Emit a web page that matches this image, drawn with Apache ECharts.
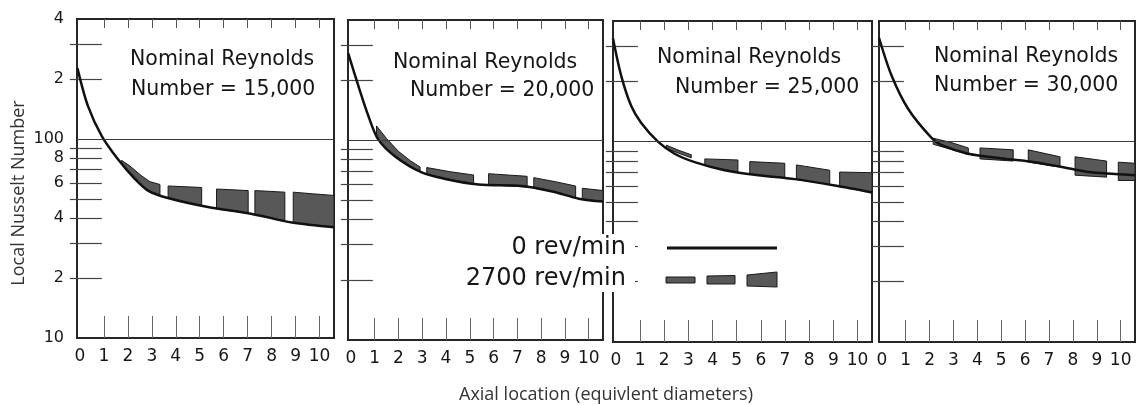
<!DOCTYPE html>
<html><head><meta charset="utf-8">
<script src="https://cdn.jsdelivr.net/npm/echarts@6/dist/echarts.min.js"></script>
<style>html,body{margin:0;padding:0;background:#fff}#c{width:1139px;height:405px}</style>
</head><body><div id="c"></div>
<script>
// ---- data ----
const panelTitles = [
  ['Nominal Reynolds', 'Number = 15,000'],
  ['Nominal Reynolds', 'Number = 20,000'],
  ['Nominal Reynolds', 'Number = 25,000'],
  ['Nominal Reynolds', 'Number = 30,000']
];
const seriesNames = ['0 rev/min', '2700 rev/min'];
const xTickLabels = [0, 1, 2, 3, 4, 5, 6, 7, 8, 9, 10];
const xTickMarks = [1, 2, 3, 4, 5, 6, 7, 8, 9, 10];
const yLabelValues = [10, 20, 40, 60, 80, 100, 200, 400];
const yLabelTexts = ['10', '2', '4', '6', '8', '100', '2', '4'];
const yMinorTicks = [20, 30, 40, 50, 60, 70, 80, 90, 200, 300];
const xAxisTitle = 'Axial location (equivlent diameters)';
const yAxisTitle = 'Local Nusselt Number';

// 0 rev/min: [x, Nu]
const rpm0_re15000 = [[-0.1,226],[0.33,147],[0.92,103],[1.59,79],[2.29,63],[2.84,55],[3.67,50.5],[5.34,45.5],[7.18,42],[8.85,38],[10.6,36]];
const rpm0_re20000 = [[-0.11,272],[0.31,188],[0.73,133],[1.15,101],[1.86,83],[2.98,69],[3.97,64],[5.37,60],[7.2,59],[8.47,55.4],[9.59,51],[10.6,49.3]];
const rpm0_re25000 = [[-0.12,327],[0.22,213],[0.64,150],[1.05,124],[1.74,100],[2.43,87],[3.26,79],[4.5,72],[5.88,68],[7.4,65],[9.06,60.4],[10.6,55.8]];
const rpm0_re30000 = [[-0.12,330],[0.41,213],[1.11,145],[2.09,104],[2.5,96],[3.62,87],[5.02,82.4],[6.41,79],[7.53,74.8],[8.64,70.5],[9.76,69],[10.6,67.9]];

// 2700 rev/min: dashes of the shaded band, each point [x, lower Nu, upper Nu]
const rpm2700_re15000 = [
  [[1.74,75,78],[2.09,68,73],[2.59,58.5,65],[2.92,54.5,61],[3.34,52,59]],
  [[3.68,50.5,58],[5.08,46,57]],
  [[5.7,44.5,56],[7.02,42.3,55]],
  [[7.3,41.8,55],[8.55,38.8,54]],
  [[8.9,38,54],[9.7,37,53],[10.6,35.8,52]]
];
const rpm2700_re20000 = [
  [[1.08,103,118],[1.5,91,102],[2.0,81,88],[2.5,74,79],[2.91,69.5,73.5]],
  [[3.19,67.5,73],[4.2,63.5,69.5],[5.16,60.5,67]],
  [[5.79,59.8,68],[7.41,58.3,66]],
  [[7.69,57.5,65],[8.6,55,62],[9.45,51.5,59]],
  [[9.73,50.8,57.5],[10.6,49.3,56]]
];
const rpm2700_re25000 = [
  [[2.09,92.5,96],[2.6,87.5,90.5],[3.12,83,86]],
  [[3.68,76,82],[5.05,70.5,81]],
  [[5.54,69,79.5],[6.99,65.8,78]],
  [[7.47,64.8,76.5],[8.85,61,72]],
  [[9.26,60,70.5],[10.6,55.8,70]]
];
const rpm2700_re30000 = [
  [[2.15,97,104],[2.9,91.5,99],[3.62,86,93]],
  [[4.11,82,93],[5.5,80,91]],
  [[6.13,79,91],[7.46,74.5,84]],
  [[8.09,68,84],[9.41,66.5,80]],
  [[9.9,64,79],[10.6,64,78]]
];

const solidSets = [rpm0_re15000, rpm0_re20000, rpm0_re25000, rpm0_re30000];
const bandSets = [rpm2700_re15000, rpm2700_re20000, rpm2700_re25000, rpm2700_re30000];

// ---- layout ----
const grids = [
  {left: 77, top: 19, width: 257, height: 319},
  {left: 348, top: 20, width: 255, height: 320},
  {left: 613, top: 21, width: 259, height: 321},
  {left: 879, top: 21, width: 256, height: 321}
];
const titlePos = [
  [[130, 60], [131, 89.5]],
  [[393, 63], [410, 91]],
  [[657, 58], [675, 87.5]],
  [[934, 57], [934, 86]]
];

const ink = '#161616';
const xAxes = [], yAxes = [], series = [];
grids.forEach((g, i) => {
  Object.assign(g, {show: true, borderColor: '#262626', borderWidth: 2, backgroundColor: 'transparent'});
  xAxes.push({
    gridIndex: i, type: 'value', position: 'bottom', min: -0.12, max: 10.6,
    axisLine: {show: false}, splitLine: {show: false},
    axisTick: {show: true, inside: true, length: 22, customValues: xTickMarks, lineStyle: {color: '#666', width: 1}},
    axisLabel: {show: true, customValues: xTickLabels, margin: 10, fontSize: 17, color: ink, fontFamily: 'DejaVu Sans'}
  });
  xAxes.push({
    gridIndex: i, type: 'value', position: 'top', min: -0.12, max: 10.6,
    axisLine: {show: false}, splitLine: {show: false},
    axisTick: {show: true, inside: true, length: 9, customValues: xTickMarks, lineStyle: {color: '#555', width: 1}},
    axisLabel: {show: false}
  });
  yAxes.push({
    gridIndex: i, type: 'log', logBase: 10, min: 10, max: 400, position: 'left',
    axisLine: {show: false}, splitLine: {show: false},
    axisTick: {show: true, inside: true, length: 22, customValues: yMinorTicks, lineStyle: {color: '#444', width: 1.2}},
    axisLabel: {
      show: i === 0, customValues: yLabelValues, margin: 13, fontSize: 16, color: ink, fontFamily: 'DejaVu Sans',
      formatter: v => {
        let best = 0;
        yLabelValues.forEach((t, k) => { if (Math.abs(t - v) < Math.abs(yLabelValues[best] - v)) best = k; });
        return yLabelTexts[best];
      }
    }
  });
  yAxes.push({
    gridIndex: i, type: 'log', logBase: 10, min: 10, max: 400, position: 'right',
    axisLine: {show: false}, splitLine: {show: false},
    axisTick: {show: true, inside: true, length: 10, customValues: yMinorTicks, lineStyle: {color: '#444', width: 1.2}},
    axisLabel: {show: false}
  });
  const dashes = bandSets[i];
  series.push({
    name: seriesNames[1], type: 'custom', xAxisIndex: 2 * i, yAxisIndex: 2 * i, z: 2,
    data: dashes.map(d => [d[0][0], d[0][1]]),
    renderItem: (params, api) => {
      const d = dashes[params.dataIndex];
      const upper = d.map(p => api.coord([p[0], p[2]]));
      const lower = d.map(p => api.coord([p[0], p[1]])).reverse();
      return {type: 'polygon', shape: {points: upper.concat(lower)},
        style: {fill: '#585858', stroke: '#1a1a1a', lineWidth: 1}};
    }
  });
  series.push({
    name: seriesNames[0], type: 'line', xAxisIndex: 2 * i, yAxisIndex: 2 * i, z: 3,
    data: solidSets[i], smooth: 0.3, symbol: 'none',
    lineStyle: {color: '#111', width: 2.5},
    markLine: {silent: true, symbol: 'none', label: {show: false},
      lineStyle: {color: '#3a3a3a', width: 1, type: 'solid'}, data: [{yAxis: 100}]}
  });
});

const graphics = [];
titlePos.forEach((pos, i) => {
  pos.forEach((p, k) => {
    graphics.push({type: 'text', x: p[0], y: p[1], z: 50,
      style: {text: panelTitles[i][k], font: '20.5px "DejaVu Sans"', fill: ink, textAlign: 'left', textVerticalAlign: 'middle'}});
  });
});
// legend
graphics.push({type: 'rect', z: 90, shape: {x: 455, y: 234, width: 180, height: 58}, style: {fill: '#fff'}});
graphics.push({type: 'text', x: 626, y: 248, z: 100,
  style: {text: seriesNames[0], font: '24px "DejaVu Sans"', fill: ink, textAlign: 'right', textVerticalAlign: 'middle'}});
graphics.push({type: 'text', x: 626, y: 279, z: 100,
  style: {text: seriesNames[1], font: '24px "DejaVu Sans"', fill: ink, textAlign: 'right', textVerticalAlign: 'middle'}});
graphics.push({type: 'line', z: 100, shape: {x1: 667, y1: 248, x2: 777, y2: 248}, style: {stroke: '#111', lineWidth: 3}});
graphics.push({type: 'polygon', z: 100, shape: {points: [[666,277],[695,277],[695,283],[666,283]]}, style: {fill: '#585858', stroke: '#1a1a1a', lineWidth: 1}});
graphics.push({type: 'polygon', z: 100, shape: {points: [[707,276],[735,275.5],[735,284],[707,284]]}, style: {fill: '#585858', stroke: '#1a1a1a', lineWidth: 1}});
graphics.push({type: 'polygon', z: 100, shape: {points: [[747,275],[777,272],[777,287],[747,286]]}, style: {fill: '#585858', stroke: '#1a1a1a', lineWidth: 1}});
// axis titles
graphics.push({type: 'text', x: 19, y: 193, rotation: Math.PI / 2, z: 50,
  style: {text: yAxisTitle, font: '18px "Open Sans"', fill: '#333', textAlign: 'center', textVerticalAlign: 'middle'}});
graphics.push({type: 'text', x: 606, y: 395, z: 50,
  style: {text: xAxisTitle, font: '18px "Open Sans"', fill: '#333', textAlign: 'center', textVerticalAlign: 'middle'}});

const chart = echarts.init(document.getElementById('c'), null, {renderer: 'canvas'});
chart.setOption({
  animation: false,
  backgroundColor: '#fff',
  grid: grids,
  xAxis: xAxes,
  yAxis: yAxes,
  series: series,
  graphic: graphics
});
</script></body></html>
